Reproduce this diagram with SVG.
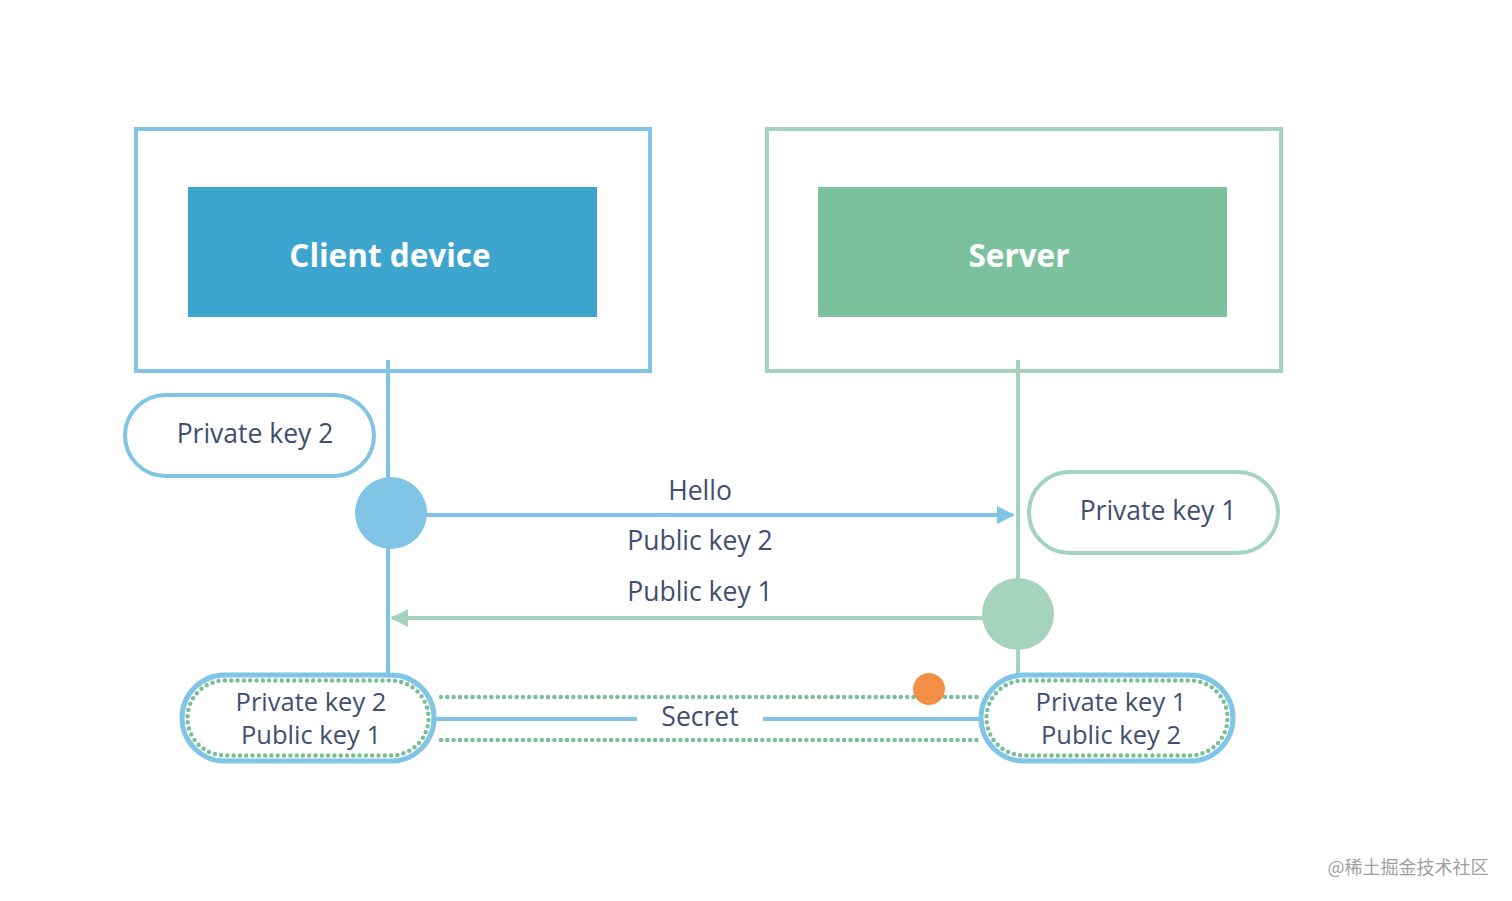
<svg xmlns="http://www.w3.org/2000/svg" width="1512" height="901" viewBox="0 0 1512 901">
<defs>
<style>
.lbl{font-family:"Open Sans","Liberation Sans",sans-serif;font-size:26.5px;fill:#3f4e72;text-anchor:middle;dominant-baseline:central}
.lbl2{font-family:"Open Sans","Liberation Sans",sans-serif;font-size:25.5px;fill:#3f4e72;text-anchor:middle;dominant-baseline:central}
.title{font-family:"Open Sans","Liberation Sans",sans-serif;font-size:31.5px;font-weight:bold;fill:#ffffff;text-anchor:middle;dominant-baseline:central}
.bl{stroke:#80c4e6;fill:none}
.gr{stroke:#a5d3be;fill:none}
.dots{stroke:#7bbf99;stroke-width:4.5;stroke-linecap:round;stroke-dasharray:0 6.3;fill:none}
</style>
<marker id="ab" viewBox="0 0 10 10" refX="9" refY="5" markerWidth="4.5" markerHeight="4.5" orient="auto" markerUnits="strokeWidth">
<path d="M0,0 L10,5 L0,10 z" fill="#80c4e6"/>
</marker>
<marker id="ag" viewBox="0 0 10 10" refX="9" refY="5" markerWidth="4.5" markerHeight="4.5" orient="auto" markerUnits="strokeWidth">
<path d="M0,0 L10,5 L0,10 z" fill="#a5d3be"/>
</marker>
</defs>
<rect width="1512" height="901" fill="#ffffff"/>

<g id="connectors">
<line class="bl" x1="388" y1="360" x2="388" y2="676" stroke-width="4"/>
<line class="gr" x1="1018" y1="360" x2="1018" y2="676" stroke-width="4"/>
<line class="bl" x1="425" y1="515" x2="1013" y2="515" stroke-width="4" marker-end="url(#ab)"/>
<line class="gr" x1="984" y1="618" x2="392" y2="618" stroke-width="4" marker-end="url(#ag)"/>
<line class="dots" x1="441" y1="697" x2="978" y2="697"/>
<line class="dots" x1="441" y1="740" x2="978" y2="740"/>
<line class="bl" x1="435" y1="719" x2="637" y2="719" stroke-width="4"/>
<line class="bl" x1="763" y1="719" x2="982" y2="719" stroke-width="4"/>
<text class="lbl" x="700" y="490">Hello</text>
<text class="lbl" x="700" y="540">Public key 2</text>
<text class="lbl" x="700" y="591">Public key 1</text>
<text class="lbl" x="700" y="716">Secret</text>
</g>

<g id="client">
<rect class="bl" x="136" y="129" width="514" height="242" stroke-width="4"/>
<rect x="188" y="187" width="409" height="130" fill="#3ea5cf"/>
<text class="title" x="390" y="254">Client device</text>
</g>

<g id="server">
<rect class="gr" x="767" y="129" width="514" height="242" stroke-width="4"/>
<rect x="818" y="187" width="409" height="130" fill="#7cc19e"/>
<text class="title" x="1019" y="254">Server</text>
</g>

<g id="private-key-2">
<rect class="bl" x="125" y="395" width="249" height="81" rx="40.5" fill="#ffffff" stroke-width="4"/>
<text class="lbl" x="255" y="433">Private key 2</text>
</g>

<g id="private-key-1">
<rect class="gr" x="1029" y="472" width="249" height="81" rx="40.5" fill="#ffffff" stroke-width="4"/>
<text class="lbl" x="1158" y="510">Private key 1</text>
</g>

<g id="client-node">
<circle cx="391" cy="513" r="36" fill="#80c4e6"/>
</g>

<g id="server-node">
<circle cx="1018" cy="614" r="36" fill="#a5d3be"/>
</g>

<g id="client-keys">
<rect class="bl" x="182" y="675" width="252" height="86" rx="43" fill="#ffffff" stroke-width="5"/>
<rect x="187.5" y="680.5" width="241" height="75" rx="37.5" class="dots"/>
<text class="lbl2" x="311" y="701">Private key 2</text>
<text class="lbl2" x="311" y="734">Public key 1</text>
</g>

<g id="server-keys">
<rect class="bl" x="981" y="675" width="252" height="86" rx="43" fill="#ffffff" stroke-width="5"/>
<rect x="986.5" y="680.5" width="241" height="75" rx="37.5" class="dots"/>
<text class="lbl2" x="1111" y="701">Private key 1</text>
<text class="lbl2" x="1111" y="734">Public key 2</text>
</g>

<circle cx="929" cy="689" r="16" fill="#f28a3c" opacity="0.95"/>

<text x="1408" y="866" font-family="'Noto Sans CJK SC','Liberation Sans',sans-serif" font-size="18" fill="#a0a0a0" text-anchor="middle" dominant-baseline="central">@稀土掘金技术社区</text>
</svg>
